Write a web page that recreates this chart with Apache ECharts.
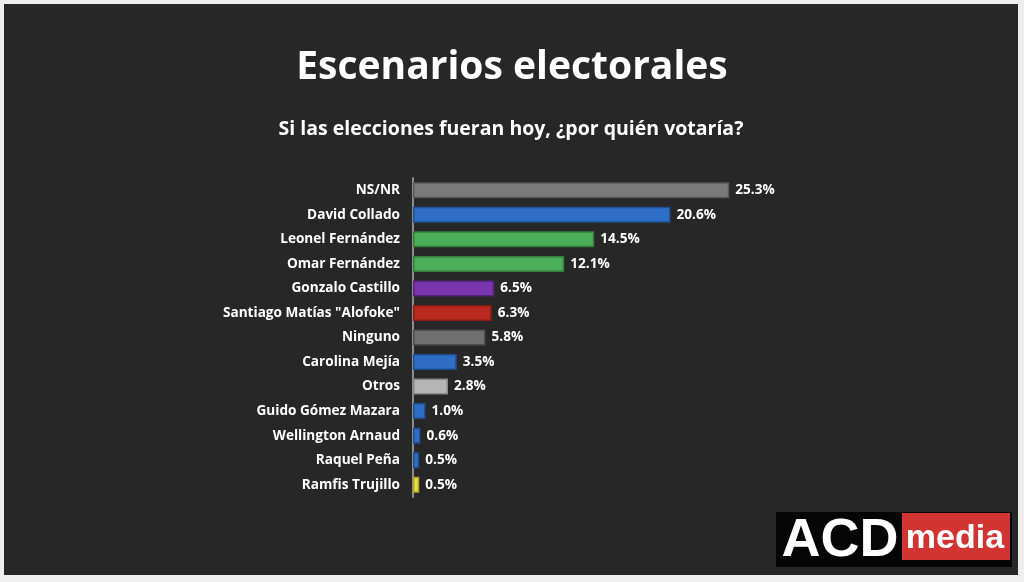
<!DOCTYPE html>
<html><head><meta charset="utf-8">
<script src="https://cdn.jsdelivr.net/npm/echarts@6/dist/echarts.min.js"></script>
<style>html,body{margin:0;padding:0;background:#eeeeee;}#c{width:1024px;height:582px;}</style>
</head><body><div id="c"></div>
<script>
const categories = ["NS/NR","David Collado","Leonel Fernández","Omar Fernández","Gonzalo Castillo","Santiago Matías \"Alofoke\"","Ninguno","Carolina Mejía","Otros","Guido Gómez Mazara","Wellington Arnaud","Raquel Peña","Ramfis Trujillo"];
const values = [25.3,20.6,14.5,12.1,6.5,6.3,5.8,3.5,2.8,1.0,0.6,0.5,0.5];
const barColors = ["#7b7b7b","#2f6ec6","#4cae58","#4cae58","#7a34ad","#bb2a20","#6f6f6f","#2f6ec6","#b5b5b5","#2f6ec6","#2f6ec6","#2f6ec6","#e8e23a"];
const edgeColors = ["#5a5a5a","#1f4f92","#347d3d","#347d3d","#56237c","#851c15","#4e4e4e","#1f4f92","#8a8a8a","#1f4f92","#1f4f92","#1f4f92","#b0a820"];

const chart = echarts.init(document.getElementById('c'));
chart.setOption({
  backgroundColor: '#eeeeee',
  animation: false,
  graphic: [
    {type:'rect', shape:{x:4,y:4,width:1014,height:571}, style:{fill:'#272727'}, z:-10},
    {type:'text', x:512, y:68, style:{text:'Escenarios electorales', fill:'#ffffff', font:'bold 39px "Open Sans", sans-serif', align:'center', verticalAlign:'middle'}},
    {type:'text', x:511, y:129, style:{text:'Si las elecciones fueran hoy, ¿por quién votaría?', fill:'#ffffff', font:'bold 19.5px "Open Sans", sans-serif', align:'center', verticalAlign:'middle'}},
    {type:'rect', shape:{x:776,y:512,width:236,height:55}, style:{fill:'#050505'}},
    {type:'rect', shape:{x:902,y:513,width:108,height:47}, style:{fill:'#d13431'}},
    {type:'text', x:840, y:541, style:{text:'ACD', fill:'#ffffff', font:'900 54px "Liberation Sans", Arial, sans-serif', align:'center', verticalAlign:'middle'}},
    {type:'text', x:955, y:539, style:{text:'media', fill:'#ffffff', font:'bold 34px "Liberation Sans", Arial, sans-serif', align:'center', verticalAlign:'middle'}}
  ],
  grid: {left:413, top:178, width:400, height:319, containLabel:false},
  xAxis: {type:'value', min:0, max:32, show:false},
  yAxis: {
    type:'category', data:categories, inverse:true,
    axisLine:{show:true, lineStyle:{color:'#8c8c8c', width:2}},
    axisTick:{show:false},
    axisLabel:{color:'#ffffff', fontWeight:'bold', fontSize:13.6, fontFamily:'"Open Sans", sans-serif', margin:13}
  },
  series: [{
    type:'bar', barWidth:16,
    data: values.map((v,i)=>({value:v, itemStyle:{color:barColors[i], borderColor:edgeColors[i], borderWidth:1.5}})),
    label:{show:true, position:'right', distance:6, color:'#ffffff', fontWeight:'bold', fontSize:13.6, fontFamily:'"Open Sans", sans-serif', formatter:p=>p.value.toFixed(1)+'%'}
  }]
});
</script></body></html>
